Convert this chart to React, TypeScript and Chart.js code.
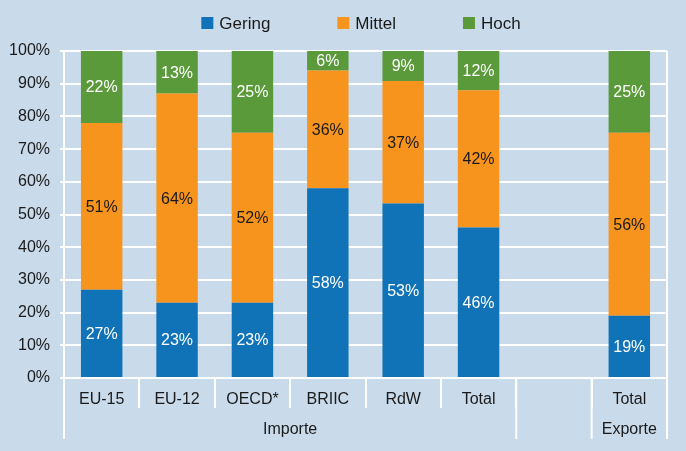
import React, { useEffect, useRef } from "react";
import { Chart, registerables } from "chart.js";
Chart.register(...registerables);

const categories = ["EU-15", "EU-12", "OECD*", "BRIIC", "RdW", "Total", "", "Total"];
const groupLabels = ["Importe", "", "Exporte"];
const groupStarts = [0, 6, 7];
const groupEnds = [5, 6, 7];
const seriesNames = ["Gering", "Mittel", "Hoch"];
const gering = [27, 23, 23, 58, 53.4, 46, null, 19];
const mittel = [51, 64, 52, 36, 37.4, 42, null, 56];
const hoch = [22, 13, 25, 6, 9.2, 12, null, 25];
const yTickStep = 10;

const COLORS = ["#1073b8", "#f7941e", "#5b9a3a"];
const LABEL_COLORS = ["#ffffff", "#1a1a1a", "#ffffff"];
const BG = "#c9daea";
const FONT = "'Liberation Sans', Arial, Helvetica, sans-serif";
const TEXT = "#1a1a1a";

const customPlugin = {
  id: "custom",
  beforeDraw(chart: any) {
    const { ctx, width, height } = chart;
    ctx.save();
    ctx.fillStyle = BG;
    ctx.fillRect(0, 0, width, height);
    ctx.restore();
  },
  afterDatasetsDraw(chart: any) {
    const { ctx } = chart;
    ctx.save();
    ctx.font = `16px ${FONT}`;
    ctx.textAlign = "center";
    ctx.textBaseline = "middle";
    chart.data.datasets.forEach((ds: any, di: number) => {
      const meta = chart.getDatasetMeta(di);
      meta.data.forEach((el: any, i: number) => {
        const v = ds.data[i];
        if (v == null) return;
        ctx.fillStyle = LABEL_COLORS[di];
        ctx.fillText(Math.round(v) + "%", el.x, (el.y + el.base) / 2 + 1);
      });
    });
    ctx.restore();
  },
  afterDraw(chart: any) {
    const { ctx, chartArea } = chart;
    const xs = chart.scales.x;
    const n = categories.length;
    const band = (chartArea.right - chartArea.left) / n;
    ctx.save();
    // right border
    ctx.strokeStyle = "#ffffff";
    ctx.lineWidth = 2;
    ctx.beginPath();
    ctx.moveTo(chartArea.right, chartArea.top);
    ctx.lineTo(chartArea.right, chartArea.bottom);
    ctx.stroke();
    // long group separators
    const edges: number[] = [];
    groupStarts.forEach((s) => edges.push(xs.getPixelForValue(s) - band / 2));
    edges.push(xs.getPixelForValue(groupEnds[groupEnds.length - 1]) + band / 2);
    edges.forEach((x) => {
      ctx.beginPath();
      ctx.moveTo(x, chartArea.bottom);
      ctx.lineTo(x, chartArea.bottom + 61);
      ctx.stroke();
    });
    // group labels
    ctx.font = `16px ${FONT}`;
    ctx.fillStyle = TEXT;
    ctx.textAlign = "center";
    ctx.textBaseline = "middle";
    groupLabels.forEach((g, i) => {
      if (!g) return;
      const x0 = xs.getPixelForValue(groupStarts[i]) - band / 2;
      const x1 = xs.getPixelForValue(groupEnds[i]) + band / 2;
      ctx.fillText(g, (x0 + x1) / 2, chartArea.bottom + 52);
    });
    // legend
    ctx.font = `17px ${FONT}`;
    const gap = 67;
    const box = 12;
    const boxGap = 6;
    const widths = chart.data.datasets.map((d: any) => box + boxGap + ctx.measureText(d.label).width);
    const total = widths.reduce((a: number, b: number) => a + b, 0) + gap * (widths.length - 1);
    let x = (chartArea.left + chartArea.right) / 2 - 4.5 - total / 2;
    const yc = 23;
    ctx.textAlign = "left";
    chart.data.datasets.forEach((d: any, i: number) => {
      ctx.fillStyle = d.backgroundColor;
      ctx.fillRect(x, yc - box / 2, box, box);
      ctx.fillStyle = TEXT;
      ctx.fillText(d.label, x + box + boxGap, yc + 1);
      x += widths[i] + gap;
    });
    ctx.restore();
  },
};

export default function App() {
  const ref = useRef<HTMLCanvasElement>(null);
  useEffect(() => {
    if (!ref.current) return;
    const chart = new Chart(ref.current, {
      type: "bar",
      data: {
        labels: categories,
        datasets: [gering, mittel, hoch].map((d, i) => ({
          label: seriesNames[i],
          data: d,
          backgroundColor: COLORS[i],
          borderWidth: 0,
          barPercentage: 0.55,
          categoryPercentage: 1,
        })),
      },
      options: {
        responsive: false,
        animation: false,
        layout: { padding: { top: 51, right: 19, left: 0, bottom: 0 } },
        plugins: { legend: { display: false }, tooltip: { enabled: false } },
        scales: {
          x: {
            stacked: true,
            offset: true,
            grid: {
              display: true,
              drawOnChartArea: false,
              offset: true,
              color: "#ffffff",
              lineWidth: 2,
              tickLength: 30,
            },
            border: { display: false },
            ticks: { color: TEXT, font: { size: 16, family: FONT }, padding: -18, maxRotation: 0, autoSkip: false },
            afterFit: (s: any) => { s.height = 73; },
          },
          y: {
            stacked: true,
            min: 0,
            max: 100,
            ticks: {
              stepSize: yTickStep,
              color: TEXT,
              font: { size: 16, family: FONT },
              padding: 10,
              callback: (v: any) => v + "%",
            },
            grid: { color: "#ffffff", lineWidth: 2, tickLength: 4 },
            border: { color: "#ffffff", width: 2 },
            afterFit: (s: any) => { s.width = 64; },
          },
        },
      },
      plugins: [customPlugin],
    });
    return () => chart.destroy();
  }, []);
  return (
    <div style={{ position: "absolute", left: 0, top: 0, width: 686, height: 451 }}>
      <canvas ref={ref} width={686} height={451} style={{ display: "block" }} />
    </div>
  );
}
